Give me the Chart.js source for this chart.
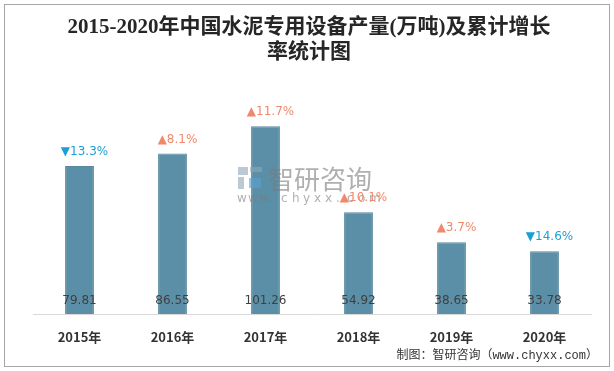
<!DOCTYPE html>
<html>
<head>
<meta charset="utf-8">
<script src="https://cdn.jsdelivr.net/npm/chart.js@4"></script>
<style>
html, body { margin: 0; padding: 0; background: #fff; }
</style>
</head>
<body>
<canvas id="output" width="614" height="371"></canvas>
<script>
const years = ['2015年', '2016年', '2017年', '2018年', '2019年', '2020年'];
const output = [79.81, 86.55, 101.26, 54.92, 38.65, 33.78];
const growth = ['13.3%', '8.1%', '11.7%', '10.1%', '3.7%', '14.6%'];
const trend = ['down', 'up', 'up', 'up', 'up', 'down'];

const titleLines = ['2015-2020年中国水泥专用设备产量(万吨)及累计增长', '率统计图'];
const footer = '制图：智研咨询（www.chyxx.com）';

// title, border, footer
const frame = {
  id: 'frame',
  beforeDraw(chart) {
    const ctx = chart.ctx;
    ctx.save();
    ctx.fillStyle = '#fff';
    ctx.fillRect(0, 0, chart.width, chart.height);
    ctx.strokeStyle = '#a6a6a6';
    ctx.lineWidth = 1;
    ctx.strokeRect(4.5, 4.5, 605, 362);
    ctx.fillStyle = '#262626';
    ctx.font = "bold 21px 'Liberation Serif', 'Noto Sans CJK SC'";
    ctx.textAlign = 'center';
    ctx.textBaseline = 'middle';
    ctx.fillText(titleLines[0], 309, 28);
    ctx.fillText(titleLines[1], 309, 53);
    ctx.font = "12px 'Liberation Mono', 'Noto Sans CJK SC'";
    ctx.fillStyle = '#333';
    ctx.textAlign = 'right';
    ctx.fillText(footer, 598, 356);
    ctx.restore();
  }
};

// watermark + value and growth labels
const labels = {
  id: 'labels',
  afterDatasetsDraw(chart) {
    const ctx = chart.ctx;
    ctx.save();
    // watermark
    ctx.globalAlpha = 0.6;
    ctx.fillStyle = '#8fa3b8';
    ctx.fillRect(238, 167, 10, 8);
    ctx.fillRect(238, 177, 6, 12);
    ctx.fillRect(250, 167, 12, 5);
    ctx.fillStyle = '#5aa0d0';
    ctx.fillRect(249, 178, 12, 10);
    ctx.fillStyle = '#7a7a7a';
    ctx.font = "26px 'Noto Sans CJK SC'";
    ctx.textAlign = 'left';
    ctx.textBaseline = 'middle';
    ctx.fillText('智研咨询', 268, 179);
    ctx.font = "12px 'DejaVu Sans'";
    const site = 'www.chyxx.com';
    for (let i = 0; i < site.length; i++) {
      ctx.fillText(site[i], 237 + i * 11, 199);
    }
    ctx.globalAlpha = 1;

    const meta = chart.getDatasetMeta(0);
    const base = chart.scales.y.getPixelForValue(0);
    meta.data.forEach((bar, i) => {
      ctx.font = "12px 'DejaVu Sans'";
      ctx.textAlign = 'center';
      ctx.fillStyle = '#404040';
      ctx.fillText(output[i].toFixed(2), bar.x, base - 13);
      const up = trend[i] === 'up';
      ctx.fillStyle = up ? '#f0896b' : '#1a9fd8';
      ctx.fillText((up ? '▲' : '▼') + growth[i], bar.x + 5, bar.y - 14);
    });
    ctx.restore();
  }
};

new Chart(document.getElementById('output'), {
  type: 'bar',
  data: {
    labels: years,
    datasets: [{
      data: output,
      backgroundColor: '#5b8fa7',
      borderColor: '#55879e',
      borderWidth: 1,
      categoryPercentage: 1,
      barPercentage: 0.31
    }]
  },
  plugins: [frame, labels],
  options: {
    responsive: false,
    devicePixelRatio: 1,
    animation: false,
    layout: { padding: { left: 33, right: 23, top: 91.5, bottom: 0 } },
    plugins: {
      legend: { display: false },
      title: { display: false },
      tooltip: { enabled: false }
    },
    scales: {
      x: {
        grid: { display: false, drawTicks: false },
        border: { display: true, color: '#d9d9d9', width: 1 },
        ticks: {
          color: '#333',
          padding: 15,
          font: { family: "'Noto Sans CJK SC'", size: 13, weight: 'bold' }
        },
        afterFit(scale) { scale.height = 57; }
      },
      y: {
        display: false,
        min: 0,
        max: 120
      }
    }
  }
});
</script>
</body>
</html>
